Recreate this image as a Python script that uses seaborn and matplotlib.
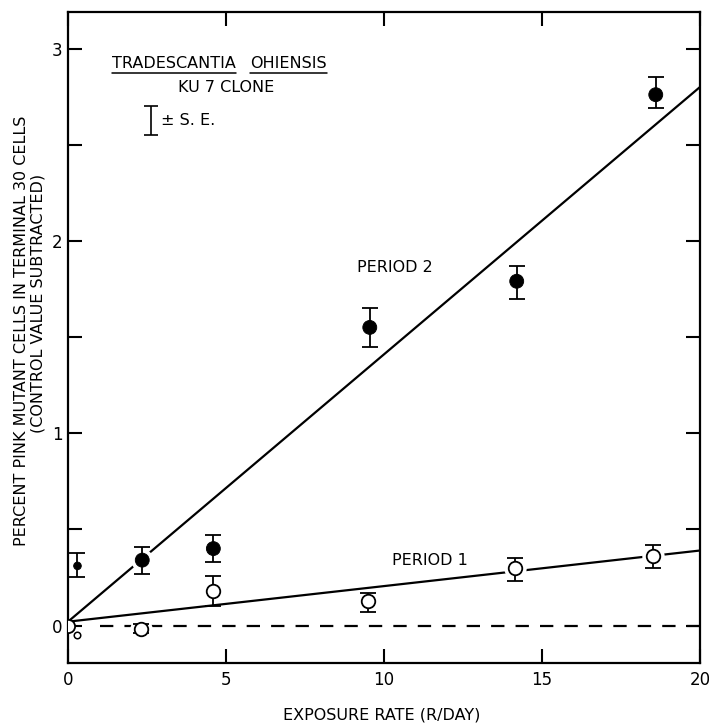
import numpy as np
import pandas as pd
import matplotlib
matplotlib.use("Agg")
import matplotlib.pyplot as plt
import seaborn as sns
from matplotlib.ticker import MultipleLocator, FixedLocator

# ---- data ----
p2_x = [0.3, 2.35, 4.6, 9.55, 14.2, 18.6]
p2_y = [0.31, 0.34, 0.40, 1.55, 1.79, 2.76]
p2_lo = [0.25, 0.27, 0.33, 1.45, 1.70, 2.69]
p2_hi = [0.375, 0.41, 0.47, 1.65, 1.87, 2.85]

p1_x = [2.3, 4.6, 9.5, 14.15, 18.5]
p1_y = [-0.02, 0.18, 0.13, 0.30, 0.36]
p1_lo = [-0.04, 0.10, 0.07, 0.23, 0.30]
p1_hi = [0.01, 0.26, 0.17, 0.35, 0.42]

origin_x = [0.0]
origin_y = [0.0]
small_x = [0.3]
small_y = [-0.05]

fit2_x = [0.0, 20.0]
fit2_y = [0.02, 2.80]
fit1_x = [0.0, 20.0]
fit1_y = [0.02, 0.39]
ctrl_x = [1.0, 20.0]
ctrl_y = [0.0, 0.0]

x_ticks = [0, 5, 10, 15, 20]
y_ticks = [0, 1, 2, 3]

sns.set_theme(style="white")
plt.rcParams['font.family'] = ['DejaVu Sans']
plt.rcParams['text.color'] = 'black'
plt.rcParams['axes.labelcolor'] = 'black'

FS = 11.5

fig = plt.figure(figsize=(7.09, 7.27), dpi=100)
ax = fig.add_axes([0.0959, 0.088, 0.8914, 0.8955])

# fitted lines
sns.lineplot(x=fit2_x, y=fit2_y, ax=ax, color="black", lw=1.6, zorder=1)
sns.lineplot(x=fit1_x, y=fit1_y, ax=ax, color="black", lw=1.6, zorder=1)
ax.plot(ctrl_x, ctrl_y, color="black", lw=1.6, dashes=(6, 5), zorder=1)

# white halos to create gaps in the lines around markers
ax.scatter(p2_x[1:], p2_y[1:], s=260, color="white", zorder=2, linewidths=0)
ax.scatter(p1_x, p1_y, s=260, color="white", zorder=2, linewidths=0)

# error bars
def err(xs, ys, lo, hi):
    ye = np.array([np.array(ys) - np.array(lo), np.array(hi) - np.array(ys)])
    ax.errorbar(xs, ys, yerr=ye, fmt="none", ecolor="black", elinewidth=1.3,
                capsize=6, capthick=1.3, zorder=3)

err(p2_x, p2_y, p2_lo, p2_hi)
err(p1_x, p1_y, p1_lo, p1_hi)

# markers
df2 = pd.DataFrame({"x": p2_x, "y": p2_y, "s": [30] + [100] * 5})
sns.scatterplot(data=df2, x="x", y="y", size="s", sizes=(30, 100), color="black",
                edgecolor="black", ax=ax, zorder=4, legend=False)
df1 = pd.DataFrame({"x": p1_x, "y": p1_y})
sns.scatterplot(data=df1, x="x", y="y", s=95, facecolor="white", edgecolor="black",
                linewidth=1.3, ax=ax, zorder=4, legend=False)
sns.scatterplot(x=origin_x, y=origin_y, s=90, facecolor="white", edgecolor="black",
                linewidth=1.3, ax=ax, zorder=4, legend=False)
sns.scatterplot(x=small_x, y=small_y, s=22, facecolor="white", edgecolor="black",
                linewidth=1.1, ax=ax, zorder=4, legend=False)

ax.set_xlim(0, 20)
ax.set_ylim(-0.195, 3.19)

# spines & ticks
for sp in ax.spines.values():
    sp.set_color("black")
    sp.set_linewidth(1.6)
ax.xaxis.set_major_locator(FixedLocator(x_ticks))
ax.yaxis.set_major_locator(FixedLocator(y_ticks))
ax.yaxis.set_minor_locator(MultipleLocator(0.5))
ax.set_xticklabels([str(t) for t in x_ticks])
ax.set_yticklabels([str(t) for t in y_ticks])
ax.tick_params(axis="both", which="both", direction="in", length=10, width=1.5,
               top=True, right=True, bottom=True, left=True, labelsize=12,
               colors="black")
ax.tick_params(axis="x", pad=6)
ax.tick_params(axis="y", pad=4)
ax.set_xlabel("")
ax.set_ylabel("")

# axis titles
fig.text(382 / 709, 1 - 715 / 727, "EXPOSURE RATE (R/DAY)", fontsize=FS,
         ha="center", va="center")
fig.text(22 / 709, 1 - 331 / 727, "PERCENT PINK MUTANT CELLS IN TERMINAL 30 CELLS",
         fontsize=11.5, rotation=90, ha="center", va="center")
fig.text(38 / 709, 1 - 303 / 727, "(CONTROL VALUE SUBTRACTED)",
         fontsize=11.5, rotation=90, ha="center", va="center")

# annotations
t1 = ax.text(1.39, 2.92, "TRADESCANTIA", fontsize=FS, ha="left", va="center")
t2 = ax.text(5.76, 2.92, "OHIENSIS", fontsize=FS, ha="left", va="center")
ax.text(5.0, 2.80, "KU 7 CLONE", fontsize=FS, ha="center", va="center")
ax.errorbar([2.63], [2.625], yerr=[[0.075], [0.075]], fmt="none", ecolor="black",
            elinewidth=1.2, capsize=5, capthick=1.2)
ax.text(2.95, 2.625, "± S. E.", fontsize=FS, ha="left", va="center")
ax.text(10.35, 1.86, "PERIOD 2", fontsize=FS, ha="center", va="center")
ax.text(11.45, 0.34, "PERIOD 1", fontsize=FS, ha="center", va="center")

# underline the species name
fig.canvas.draw()
r = fig.canvas.get_renderer()
inv = ax.transData.inverted()
for t in (t1, t2):
    bb = t.get_window_extent(renderer=r)
    (x0, y0) = inv.transform((bb.x0, bb.y0 - 2))
    (x1, _) = inv.transform((bb.x1, bb.y0 - 2))
    ax.plot([x0, x1], [y0, y0], color="black", lw=1.1)

fig.savefig("out.png", dpi=100, facecolor="white")
